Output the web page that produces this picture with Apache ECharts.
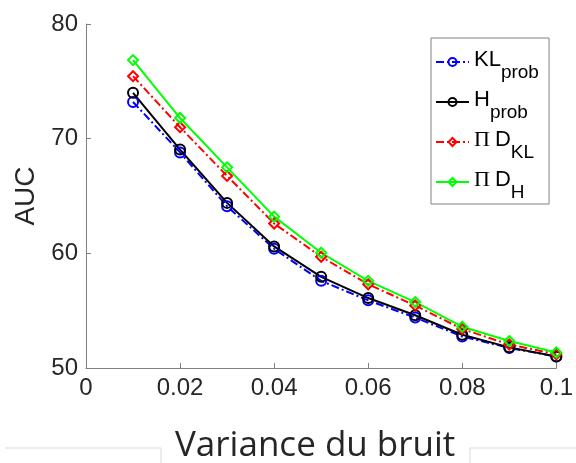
<!DOCTYPE html>
<html><head><meta charset="utf-8">
<script src="https://cdn.jsdelivr.net/npm/echarts@6/dist/echarts.min.js"></script>
<style>html,body{margin:0;padding:0;background:#fff}#c{width:576px;height:463px}</style>
</head><body><div id="c"></div>
<script>
const xValues = [0.01,0.02,0.03,0.04,0.05,0.06,0.07,0.08,0.09,0.1];
const klProb = [73.2,68.8,64.1,60.4,57.6,55.9,54.4,52.75,51.75,51.0];
const hProb  = [74.0,69.05,64.4,60.6,57.95,56.1,54.6,52.9,51.8,51.0];
const piDKL  = [75.45,71.0,66.75,62.6,59.7,57.3,55.45,53.4,52.05,51.2];
const piDH   = [76.85,71.8,67.5,63.2,60.05,57.6,55.75,53.6,52.35,51.35];
const xTicks = ['0','0.02','0.04','0.06','0.08','0.1'];
const yTicks = ['50','60','70','80'];
const seriesNames = ['KL_prob','H_prob','PiD_KL','PiD_H'];

const pairs = a => xValues.map((x,i)=>[x,a[i]]);
const chart = echarts.init(document.getElementById('c'));
const mk = (name, data, color, symbol, dash) => ({
  name, type:'line', data: pairs(data), symbol, symbolSize: 10,
  showSymbol:true,
  lineStyle:{color, width:2, type: dash},
  itemStyle:{color:'rgba(255,255,255,0)', borderColor:color, borderWidth:2},
  emphasis:{disabled:true}, animation:false, z: 2
});
const legendLabels = {
  'KL_prob': '{a|KL}{b|prob}{s| }',
  'H_prob': '{a|H}{b|prob}{s| }',
  'PiD_KL': '{p|Π}{a|D}{b|KL}{s| }',
  'PiD_H': '{p|Π}{a|D}{b|H}{s| }'
};
chart.setOption({
  animation:false,
  grid:{left:86, right:17, top:24, bottom:95},
  xAxis:{type:'value', min:0, max:0.1, interval:0.02,
    axisLine:{show:true, lineStyle:{color:'#808080', width:1}},
    axisTick:{show:true, inside:true, length:5, lineStyle:{color:'#808080'}},
    splitLine:{show:false},
    axisLabel:{color:'#262626', fontFamily:'Liberation Sans, Arial', fontSize:24, margin:8,
      formatter: v => xTicks[Math.round(v/0.02)]}
  },
  yAxis:{type:'value', min:50, max:80, interval:10,
    axisLine:{show:true, lineStyle:{color:'#808080', width:1}},
    axisTick:{show:true, inside:true, length:5, lineStyle:{color:'#808080'}},
    splitLine:{show:false},
    axisLabel:{color:'#262626', fontFamily:'Liberation Sans, Arial', fontSize:24, margin:8,
      formatter: v => yTicks[Math.round((v-50)/10)]},
    name:'AUC', nameLocation:'middle', nameGap:43, nameRotate:90,
    nameTextStyle:{color:'#262626', fontFamily:'Liberation Sans, Arial', fontSize:28}
  },
  legend:{
    orient:'vertical', left:431, top:38,
    padding:[4,9,2,4], itemGap:0, itemWidth:33, itemHeight:10,
    borderColor:'#808080', borderWidth:1, backgroundColor:'#fff',
    data: seriesNames,
    formatter: n => legendLabels[n],
    textStyle:{
      color:'#000', fontFamily:'Liberation Sans, Arial',
      rich:{
        a:{fontSize:22, color:'#000', fontFamily:'Liberation Sans, Arial', lineHeight:30, verticalAlign:'top', padding:[7,0,0,0]},
        p:{fontSize:22, color:'#000', fontFamily:'Liberation Serif, Times New Roman', lineHeight:30, verticalAlign:'top', padding:[7,5,0,0]},
        b:{fontSize:19, color:'#000', fontFamily:'Liberation Sans, Arial', lineHeight:21, verticalAlign:'bottom'},
        s:{fontSize:4, lineHeight:40, verticalAlign:'middle'}
      }
    }
  },
  graphic:[
    {type:'text', left:175, top:429, style:{text:'Variance du bruit', fontSize:35, fontFamily:'Open Sans', fill:'#262626'}},
    {type:'polyline', shape:{points:[[5,448],[161,448],[161,463]]}, style:{stroke:'#d9d9d9', lineWidth:1, fill:null}},
    {type:'polyline', shape:{points:[[470,463],[470,448],[576,448]]}, style:{stroke:'#d9d9d9', lineWidth:1, fill:null}}
  ],
  series:[
    mk('KL_prob', klProb, '#0000ff', 'circle', [8,3,2,3]),
    mk('H_prob', hProb, '#000000', 'circle', 'solid'),
    mk('PiD_KL', piDKL, '#ff0000', 'diamond', [8,3,2,3]),
    mk('PiD_H', piDH, '#00ff00', 'diamond', 'solid')
  ]
});
</script></body></html>
